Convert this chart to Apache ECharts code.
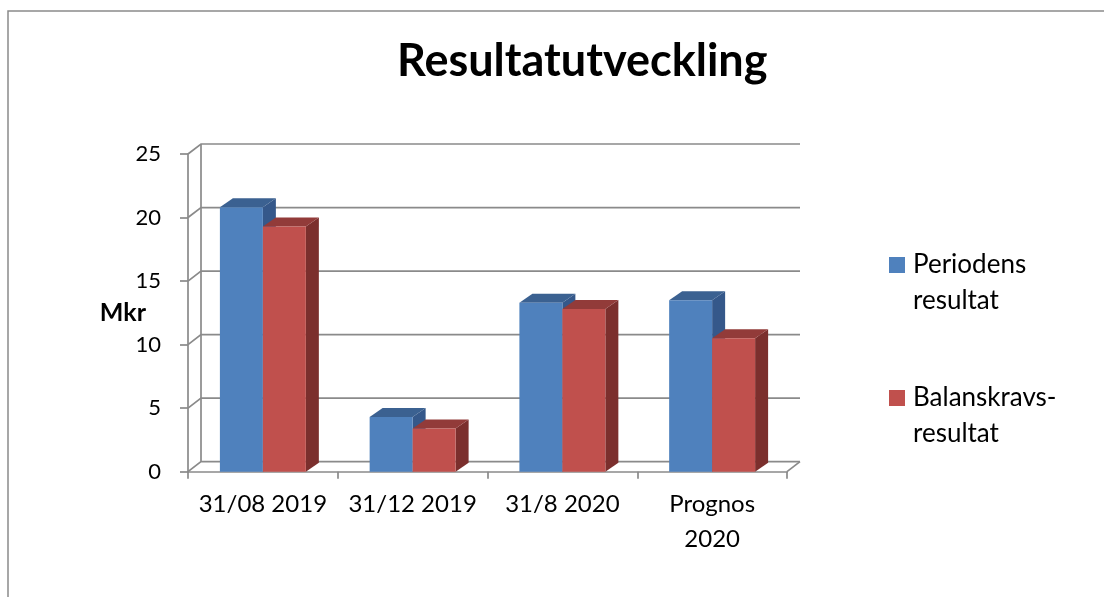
<!DOCTYPE html>
<html>
<head>
<meta charset="utf-8">
<script src="https://cdn.jsdelivr.net/npm/echarts@6/dist/echarts.min.js"></script>
<style>
html,body{margin:0;padding:0;background:#fff;}
#c{width:1104px;height:597px;}
</style>
</head>
<body>
<div id="c"></div>
<script>
// ---- data ----
const categories = ['31/08 2019', '31/12 2019', '31/8 2020', 'Prognos\n2020'];
const seriesNames = ['Periodens\nresultat', 'Balanskravs-\nresultat'];
const periodensResultat = [20.8, 4.3, 13.3, 13.5];
const balanskravsResultat = [19.3, 3.4, 12.8, 10.5];
const yTicks = [0, 5, 10, 15, 20, 25];

// ---- style ----
const FONT = 'Lato';
const DX = 13, DY = -10;       // back wall offset
const BDX = 13, BDY = -9;      // bar depth offset
const GRID_COLOR = '#8a8a8a';
const BAR_FRAC = 0.287;
const colors = [
  { front: '#4F81BD', top: '#3B6191', side: '#35588A' },
  { front: '#C0504D', top: '#923B39', side: '#7B2F2D' }
];

function barRender(sIdx) {
  return function (params, api) {
    const cat = api.value(0), val = api.value(1);
    const top = api.coord([cat, val]);
    const base = api.coord([cat, 0]);
    const band = api.size([1, 0])[0];
    const w = band * BAR_FRAC;
    const x0 = sIdx === 0 ? top[0] - w : top[0];
    const x1 = x0 + w;
    const yT = top[1], yB = base[1];
    const c = colors[sIdx];
    return {
      type: 'group',
      children: [
        { type: 'polygon', shape: { points: [[x1, yT], [x1 + BDX, yT + BDY], [x1 + BDX, yB + BDY], [x1, yB]] },
          style: { fill: c.side } },
        { type: 'polygon', shape: { points: [[x0, yT], [x0 + BDX, yT + BDY], [x1 + BDX, yT + BDY], [x1, yT]] },
          style: { fill: c.top } },
        { type: 'rect', shape: { x: x0, y: yT, width: w, height: yB - yT },
          style: { fill: c.front } }
      ]
    };
  };
}

function frameRender(params, api) {
  const v = api.value(1);
  const cs = params.coordSys;
  const left = cs.x, right = cs.x + cs.width;
  const y = api.coord([0, v])[1];
  const children = [];
  const ls = { stroke: GRID_COLOR, lineWidth: 1.7, fill: null };
  children.push({ type: 'polyline', shape: { points: [[left, y], [left + DX, y + DY], [right + DX, y + DY]] }, style: ls });
  if (v === 0) {
    children.push({ type: 'line', shape: { x1: right, y1: y, x2: right + DX, y2: y + DY }, style: ls });
    const yTop = api.coord([0, yTicks[yTicks.length - 1]])[1];
    children.push({ type: 'line', shape: { x1: left + DX, y1: y + DY, x2: left + DX, y2: yTop + DY }, style: ls });
  }
  return { type: 'group', children: children };
}

const chart = echarts.init(document.getElementById('c'), null, { renderer: 'canvas' });
chart.setOption({
  animation: false,
  backgroundColor: '#fff',
  textStyle: { fontFamily: FONT },
  title: {
    text: 'Resultatutveckling',
    left: 392,
    top: 34,
    textStyle: { fontFamily: FONT, fontSize: 45, fontWeight: 'bold', color: '#000' }
  },
  graphic: [
    { type: 'polyline', shape: { points: [[8, 700], [8, 11], [1110, 11]] },
      style: { stroke: '#8a8a8a', lineWidth: 1.5, fill: null }, silent: true }
  ],
  legend: {
    orient: 'vertical',
    left: 889,
    top: 247,
    padding: 0,
    itemGap: 61,
    itemWidth: 16,
    itemHeight: 52,
    icon: 'path://M0,0H16V16H0Z M0,52H0.01V52.01H0Z',
    textStyle: { fontFamily: FONT, fontSize: 26, color: '#000', lineHeight: 36, padding: [0, 0, 0, 3] },
    itemStyle: { borderWidth: 0 },
    data: seriesNames
  },
  grid: { left: 188, top: 154, width: 599, height: 317.7, containLabel: false },
  xAxis: {
    type: 'category',
    data: categories,
    axisLine: { show: true, lineStyle: { color: GRID_COLOR, width: 1.7 } },
    axisTick: { show: true, alignWithLabel: false, length: 7, lineStyle: { color: GRID_COLOR, width: 1.7 } },
    axisLabel: { fontFamily: FONT, fontSize: 24, color: '#000', margin: 15, lineHeight: 35, interval: 0 },
    splitLine: { show: false }
  },
  yAxis: {
    type: 'value',
    min: 0, max: 25, interval: 5,
    name: 'Mkr',
    nameLocation: 'middle',
    nameRotate: 0,
    nameGap: 42,
    nameMoveOverlap: false,
    nameTextStyle: { fontFamily: FONT, fontSize: 25, fontWeight: 'bold', color: '#000' },
    axisLine: { show: true, lineStyle: { color: GRID_COLOR, width: 1.7 } },
    axisTick: { show: true, length: 8, lineStyle: { color: GRID_COLOR, width: 1.7 } },
    axisLabel: { fontFamily: FONT, fontSize: 22, color: '#000', margin: 27 },
    splitLine: { show: false }
  },
  series: [
    {
      type: 'custom', name: 'frame', silent: true, z: 1,
      renderItem: frameRender,
      data: yTicks.map(v => [0, v]),
      encode: { x: 0, y: 1 }
    },
    {
      type: 'custom', name: seriesNames[0], z: 3,
      itemStyle: { color: colors[0].front },
      renderItem: barRender(0),
      data: periodensResultat.map((v, i) => [i, v]),
      encode: { x: 0, y: 1 }
    },
    {
      type: 'custom', name: seriesNames[1], z: 4,
      itemStyle: { color: colors[1].front },
      renderItem: barRender(1),
      data: balanskravsResultat.map((v, i) => [i, v]),
      encode: { x: 0, y: 1 }
    }
  ]
});
</script>
</body>
</html>
